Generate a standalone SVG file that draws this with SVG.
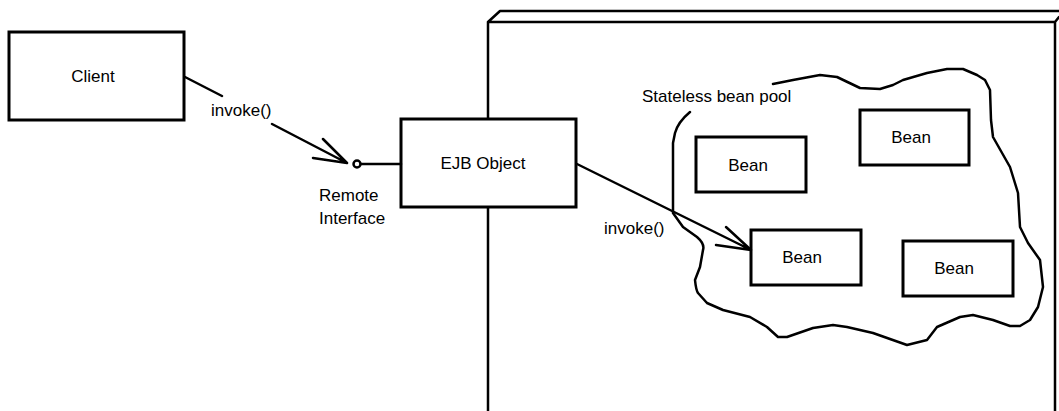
<svg xmlns="http://www.w3.org/2000/svg" width="1059" height="411" viewBox="0 0 1059 411">
<style>
.box{fill:#fff;stroke:#000;stroke-width:3}
.ln{fill:none;stroke:#000;stroke-width:2.5;stroke-linejoin:round;stroke-linecap:round}
.t{font-family:"Liberation Sans",Arial,sans-serif;font-size:17px;fill:#000}
.c{text-anchor:middle}
</style>
<rect width="1059" height="411" fill="#fff"/>
<g id="container">
<path class="ln" d="M488 411 V22 H1055 V411 M488 22 L500 11 H1059 M1055 22 L1059 17"/>
</g>
<g id="pool">
<path class="ln" d="M690 112 Q678 122 675 133 L673 143 L673 183 L673 213 L683 227 L697 237 Q705 244 703 250 L700 267 L695 280 Q696 290 698 293 L707 303 L723 310 L750 317 L767 327 L778 337 L787 337 L813 328 L833 325 L847 327 L873 333 L907 345 L927 340 L937 327 L960 317 L973 315 L993 320 L1010 326 L1020 326 L1030 320 L1038 307 L1043 287 L1040 260 L1028 243 L1020 227 L1018 193 L1010 167 L993 137 L991 120 L990 90 L985 80 L977 75 L963 69 L947 69 L927 73 L903 80 L893 85 L880 89 L860 88 L837 77 L820 75 L793 80 L773 84"/>
<text class="t" x="642" y="102">Stateless bean pool</text>
</g>
<g id="client">
<rect class="box" x="9" y="32" width="175" height="88"/>
<text class="t c" x="93" y="82">Client</text>
</g>
<g id="ejb">
<rect class="box" x="401" y="119" width="175" height="88"/>
<text class="t c" x="483" y="169">EJB Object</text>
</g>
<g id="remote-interface">
<circle cx="357" cy="164" r="3.5" fill="#fff" stroke="#000" stroke-width="2.5"/>
<text class="t" x="319" y="201">Remote</text>
<text class="t" x="319" y="224">Interface</text>
</g>
<g id="bean1">
<rect class="box" x="696" y="137" width="110" height="55"/>
<text class="t c" x="748" y="171">Bean</text>
</g>
<g id="bean2">
<rect class="box" x="860" y="110" width="109" height="55"/>
<text class="t c" x="911" y="143">Bean</text>
</g>
<g id="bean3">
<rect class="box" x="751" y="230" width="110" height="55"/>
<text class="t c" x="802" y="263">Bean</text>
</g>
<g id="bean4">
<rect class="box" x="903" y="241" width="110" height="55"/>
<text class="t c" x="954" y="274">Bean</text>
</g>
<g id="connectors">
<path class="ln" d="M185 77 L222 96 M272 124 L347 163 M323 139 L347 163 L313 158"/>
<text class="t" x="211" y="116">invoke()</text>
<path class="ln" d="M361 164 H401"/>
<path class="ln" d="M577 164 L751 250 M726 227 L751 250 L716 245"/>
<text class="t" x="604" y="234">invoke()</text>
</g>
</svg>
